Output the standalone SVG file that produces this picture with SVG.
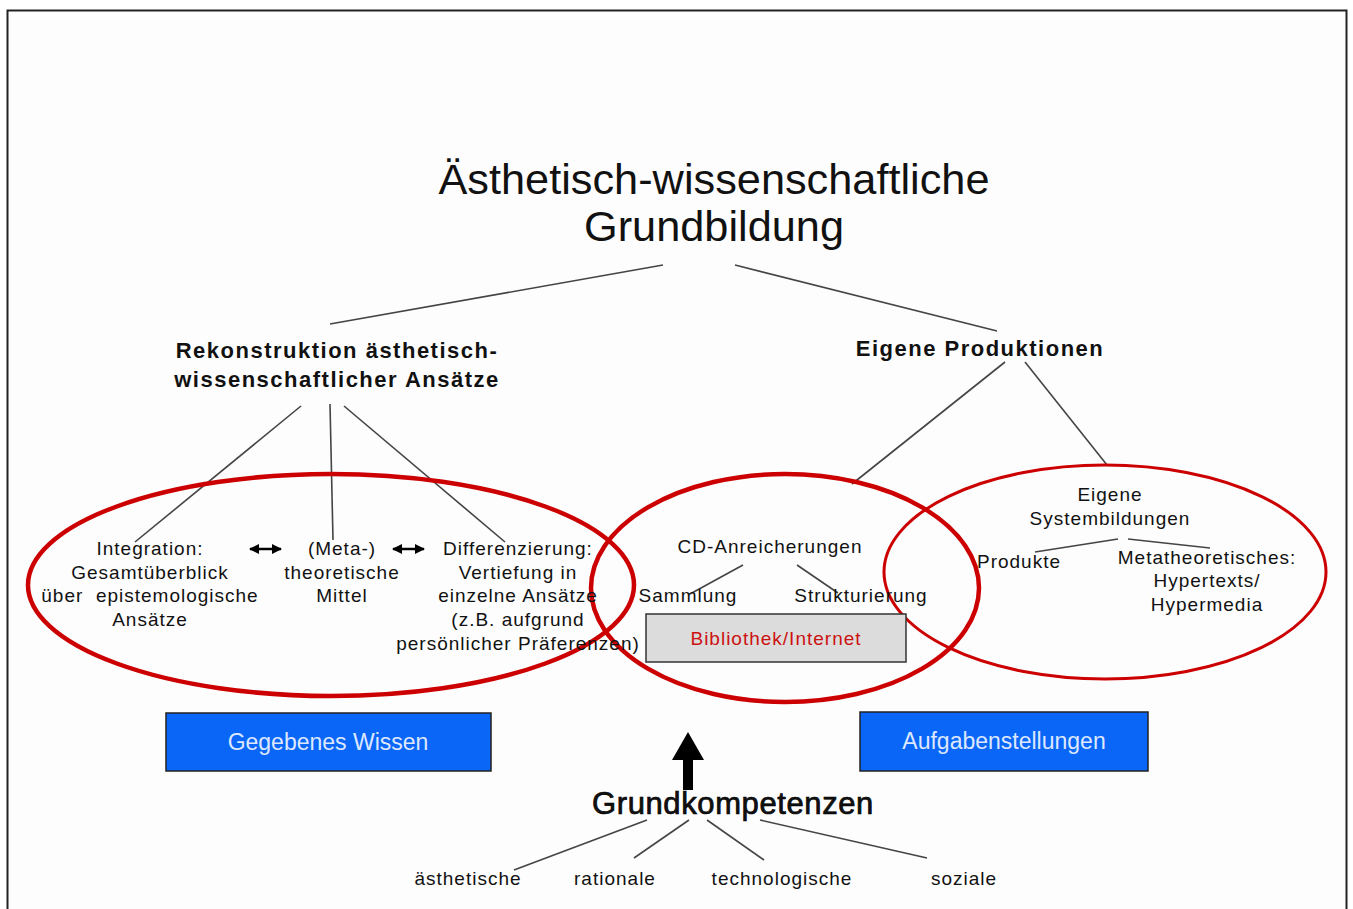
<svg xmlns="http://www.w3.org/2000/svg" width="1353" height="909" viewBox="0 0 1353 909">
<defs>
<marker id="ah" viewBox="0 0 10 10" refX="9" refY="5" markerWidth="4" markerHeight="4" orient="auto-start-reverse" markerUnits="strokeWidth">
<path d="M0,0 L10,5 L0,10 z" fill="#000"/>
</marker>
</defs>
<style>
text{font-family:"Liberation Sans",Arial,sans-serif;fill:#111;text-anchor:middle}
.t{font-size:19px;letter-spacing:1px}
.h{font-size:22px;font-weight:bold;letter-spacing:1.5px}
.ti{font-size:43.3px}
.c{stroke:#444;stroke-width:1.6;fill:none}
.e{fill:none;stroke:#cc0000}
.bb{fill:#0a66f7;stroke:#222;stroke-width:1.5}
.bt{font-size:23px;fill:#dde8ff}
.da{stroke:#000;stroke-width:2.5;marker-start:url(#ah);marker-end:url(#ah)}
</style>
<rect x="0" y="0" width="1353" height="909" fill="#fff"/>
<rect x="7.5" y="10.5" width="1339" height="1000" fill="#fdfdfd" stroke="#222" stroke-width="2"/>

<g id="connectors">
<line class="c" x1="663" y1="265" x2="330" y2="324"/>
<line class="c" x1="735" y1="265" x2="997" y2="331"/>
<line class="c" x1="301" y1="406" x2="135" y2="542"/>
<line class="c" x1="330" y1="404" x2="333" y2="540"/>
<line class="c" x1="344" y1="406" x2="505" y2="542"/>
<line class="c" x1="1005" y1="362" x2="852" y2="484"/>
<line class="c" x1="1025" y1="362" x2="1107" y2="465"/>
<line class="c" x1="743" y1="565" x2="690" y2="594"/>
<line class="c" x1="797" y1="565" x2="838" y2="593"/>
<line class="c" x1="1118" y1="539" x2="1035" y2="552"/>
<line class="c" x1="1128" y1="539" x2="1210" y2="548"/>
<line class="c" x1="647" y1="820" x2="514" y2="870"/>
<line class="c" x1="689" y1="820" x2="634" y2="858"/>
<line class="c" x1="707" y1="820" x2="764" y2="860"/>
<line class="c" x1="760" y1="820" x2="927" y2="858"/>
<line class="da" x1="250" y1="549" x2="281" y2="549"/>
<line class="da" x1="393" y1="549" x2="424" y2="549"/>
<path d="M683,790 L683,760 L672,760 L688,732 L704,760 L693,760 L693,790 z" fill="#000"/>
</g>

<g id="title">
<text class="ti" x="714" y="194">Ästhetisch-wissenschaftliche</text>
<text class="ti" x="714" y="241">Grundbildung</text>
</g>

<g id="rekonstruktion">
<text class="h" x="337" y="358">Rekonstruktion ästhetisch-</text>
<text class="h" x="337" y="387">wissenschaftlicher Ansätze</text>
</g>

<g id="eigene-produktionen">
<text class="h" x="980" y="356">Eigene Produktionen</text>
</g>

<g id="ellipse-left"><ellipse class="e" cx="331" cy="585" rx="303" ry="111" stroke-width="4.5"/></g>
<g id="ellipse-middle"><ellipse class="e" cx="785" cy="588" rx="194" ry="114" stroke-width="4.5"/></g>
<g id="ellipse-right"><ellipse class="e" cx="1105" cy="572" rx="221" ry="107" stroke-width="3"/></g>

<g id="integration">
<text class="t" x="150" y="555">Integration:</text>
<text class="t" x="150" y="579">Gesamtüberblick</text>
<text class="t" x="150" y="602" xml:space="preserve">über  epistemologische</text>
<text class="t" x="150" y="626">Ansätze</text>
</g>

<g id="meta">
<text class="t" x="342" y="555">(Meta-)</text>
<text class="t" x="342" y="579">theoretische</text>
<text class="t" x="342" y="602">Mittel</text>
</g>

<g id="differenzierung">
<text class="t" x="518" y="555">Differenzierung:</text>
<text class="t" x="518" y="579">Vertiefung in</text>
<text class="t" x="518" y="602">einzelne Ansätze</text>
<text class="t" x="518" y="626">(z.B. aufgrund</text>
<text class="t" x="518" y="650">persönlicher Präferenzen)</text>
</g>

<g id="cd">
<text class="t" x="770" y="553">CD-Anreicherungen</text>
</g>
<g id="sammlung"><text class="t" x="688" y="602">Sammlung</text></g>
<g id="strukturierung"><text class="t" x="861" y="602">Strukturierung</text></g>

<g id="bibliothek">
<rect x="646" y="614" width="260" height="48" fill="#dcdcdc" stroke="#333" stroke-width="1.5"/>
<text class="t" x="776" y="645" style="fill:#cc1111">Bibliothek/Internet</text>
</g>

<g id="systembildungen">
<text class="t" x="1110" y="501">Eigene</text>
<text class="t" x="1110" y="525">Systembildungen</text>
</g>
<g id="produkte"><text class="t" x="1019" y="568">Produkte</text></g>
<g id="metatheoretisches">
<text class="t" x="1207" y="564">Metatheoretisches:</text>
<text class="t" x="1207" y="587">Hypertexts/</text>
<text class="t" x="1207" y="611">Hypermedia</text>
</g>

<g id="gegebenes-wissen">
<rect class="bb" x="166" y="713" width="325" height="58"/>
<text class="bt" x="328" y="750">Gegebenes Wissen</text>
</g>
<g id="aufgabenstellungen">
<rect class="bb" x="860" y="712" width="288" height="59"/>
<text class="bt" x="1004" y="749">Aufgabenstellungen</text>
</g>

<g id="grundkompetenzen">
<text x="733" y="814" style="font-size:31px;letter-spacing:0.6px;stroke:#000;stroke-width:0.7">Grundkompetenzen</text>
</g>
<g id="aesthetische"><text class="t" x="468" y="885">ästhetische</text></g>
<g id="rationale"><text class="t" x="615" y="885">rationale</text></g>
<g id="technologische"><text class="t" x="782" y="885">technologische</text></g>
<g id="soziale"><text class="t" x="964" y="885">soziale</text></g>
</svg>
